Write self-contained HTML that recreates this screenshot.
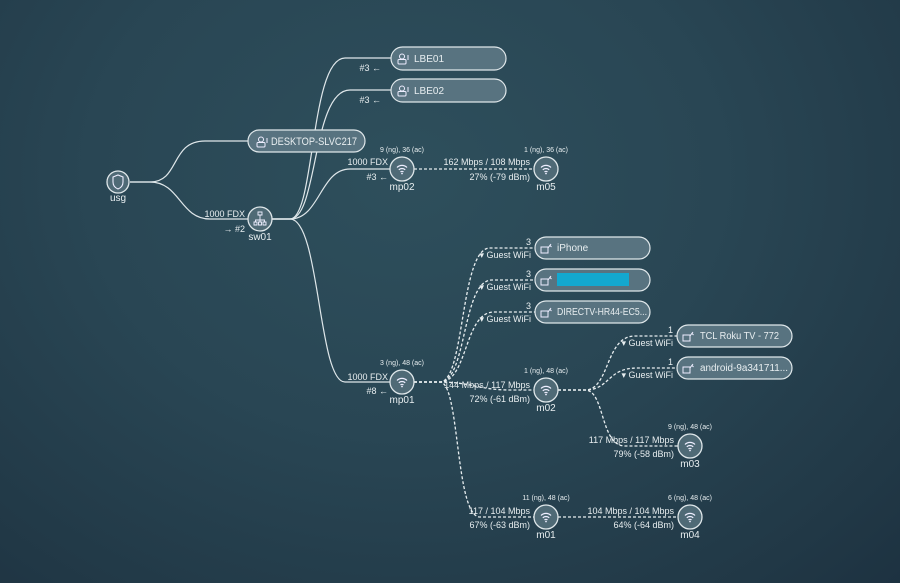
<!DOCTYPE html>
<html><head><meta charset="utf-8"><style>
html,body{margin:0;padding:0;width:900px;height:583px;overflow:hidden}
body{background:radial-gradient(ellipse at 45% 30%,#2e4f5c 0%,#294654 45%,#213846 85%,#1d3241 100%)}
svg{position:absolute;left:0;top:0}
text{font-family:"Liberation Sans",sans-serif;fill:#e8eef0}
.s{font-size:9px}.xs{font-size:7px}.m{font-size:10px}.l{font-size:11px}
.ln{fill:none;stroke:#dfe7ea;stroke-width:1.2}
.dl{fill:none;stroke:#e8eef0;stroke-width:1.3;stroke-dasharray:3 2}
.nd{fill:#4f6a76;stroke:#dfe7ea;stroke-width:1.3}
.pl{fill:#587380;stroke:#dfe7ea;stroke-width:1.2}
</style></head><body>
<svg width="900" height="583" viewBox="0 0 900 583">
<defs>
<g id="wifi"><path d="M-5,-1.5 A7,7 0 0 1 5,-1.5 M-3.2,0.8 A4.5,4.5 0 0 1 3.2,0.8 M-1.5,3 A2,2 0 0 1 1.5,3" fill="none" stroke="#eef" stroke-width="1.2"/><circle cx="0" cy="4.5" r="0.9" fill="#eef"/></g>
<g id="usr"><circle cx="-1" cy="-2.5" r="2.5" fill="none" stroke="#eef" stroke-width="1"/><rect x="-5" y="0.5" width="8" height="4.5" rx="1" fill="none" stroke="#eef" stroke-width="1"/><line x1="5" y1="-4" x2="5" y2="1" stroke="#eef" stroke-width="1"/></g>
<g id="dev"><rect x="-5" y="-2" width="7" height="6" fill="none" stroke="#eef" stroke-width="1"/><path d="M2,-1 L5,-5 M3.5,-4 L5.5,-2" stroke="#eef" stroke-width="1" fill="none"/></g>
</defs>
<path class="ln" d="M130,182 L150,182 C180,182 170,141 205,141 L248,141"/>
<path class="ln" d="M130,182 L150,182 C180,182 180,219 210,219 L248,219"/>
<path class="ln" d="M272,219 L290,219 C315,219 310,58 345,58 L391,58"/>
<path class="ln" d="M272,219 L290,219 C318,219 312,90 350,90 L391,90"/>
<path class="ln" d="M272,219 L290,219 C320,219 320,169 350,169 L390,169"/>
<path class="ln" d="M272,219 L290,219 C320,219 318,382 345,382 L390,382"/>
<path class="dl" d="M414,169 L534,169"/>
<path class="dl" d="M414,382 L440,382 C465,382 460,248 490,248 L535,248"/>
<path class="dl" d="M414,382 L440,382 C467,382 462,280 492,280 L535,280"/>
<path class="dl" d="M414,382 L440,382 C468,382 464,312 494,312 L535,312"/>
<path class="dl" d="M414,382 L440,382 C470,382 480,390 510,390 L534,390"/>
<path class="dl" d="M414,382 L440,382 C460,382 455,517 480,517 L534,517"/>
<path class="dl" d="M558,390 L585,390 C610,390 605,336 635,336 L677,336"/>
<path class="dl" d="M558,390 L585,390 C610,390 607,368 637,368 L677,368"/>
<path class="dl" d="M558,390 L585,390 C605,390 600,446 625,446 L678,446"/>
<path class="dl" d="M558,517 L678,517"/>
<rect class="pl" x="248" y="130" width="117" height="22" rx="11"/>
<use href="#usr" x="262" y="142"/><text class="l" x="271" y="145" textLength="86" lengthAdjust="spacingAndGlyphs">DESKTOP-SLVC217</text>
<rect class="pl" x="391" y="47" width="115" height="23" rx="11.5"/>
<use href="#usr" x="403" y="59"/><text class="m" x="414" y="62">LBE01</text>
<rect class="pl" x="391" y="79" width="115" height="23" rx="11.5"/>
<use href="#usr" x="403" y="91"/><text class="m" x="414" y="94">LBE02</text>
<rect class="pl" x="535" y="237" width="115" height="22" rx="11"/>
<use href="#dev" x="546" y="249"/><text class="m" x="557" y="251">iPhone</text>
<rect class="pl" x="535" y="269" width="115" height="22" rx="11"/>
<use href="#dev" x="546" y="281"/><rect x="557" y="273" width="72" height="13" fill="#13a8cf"/>
<rect class="pl" x="535" y="301" width="115" height="22" rx="11"/>
<use href="#dev" x="546" y="313"/><text class="m" x="557" y="315" textLength="90" lengthAdjust="spacingAndGlyphs">DIRECTV-HR44-EC5...</text>
<rect class="pl" x="677" y="325" width="115" height="22" rx="11"/>
<use href="#dev" x="688" y="337"/><text class="m" x="700" y="339" textLength="79" lengthAdjust="spacingAndGlyphs">TCL Roku TV - 772</text>
<rect class="pl" x="677" y="357" width="115" height="22" rx="11"/>
<use href="#dev" x="688" y="369"/><text class="m" x="700" y="371" textLength="88" lengthAdjust="spacingAndGlyphs">android-9a341711...</text>
<circle class="nd" cx="118" cy="182" r="11"/><path d="M113,177 L118,175 L123,177 L123,182 Q123,187 118,189 Q113,187 113,182Z" fill="none" stroke="#eef" stroke-width="1.1"/>
<text class="m" x="118" y="201" text-anchor="middle">usg</text>
<circle class="nd" cx="260" cy="219" r="12"/><path d="M258,212h4v3h-4z M254,222h3v3h-3z M258.5,222h3v3h-3z M263,222h3v3h-3z M260,215v4 M255.5,222v-2h9v2 M260,219v3" fill="none" stroke="#eef" stroke-width="0.9"/>
<text class="m" x="260" y="240" text-anchor="middle">sw01</text>
<g>
<circle class="nd" cx="402" cy="169" r="12"/><use href="#wifi" x="402" y="169"/><text class="m" x="402" y="190" text-anchor="middle">mp02</text>
<circle class="nd" cx="546" cy="169" r="12"/><use href="#wifi" x="546" y="169"/><text class="m" x="546" y="190" text-anchor="middle">m05</text>
<circle class="nd" cx="402" cy="382" r="12"/><use href="#wifi" x="402" y="382"/><text class="m" x="402" y="403" text-anchor="middle">mp01</text>
<circle class="nd" cx="546" cy="390" r="12"/><use href="#wifi" x="546" y="390"/><text class="m" x="546" y="411" text-anchor="middle">m02</text>
<circle class="nd" cx="690" cy="446" r="12"/><use href="#wifi" x="690" y="446"/><text class="m" x="690" y="467" text-anchor="middle">m03</text>
<circle class="nd" cx="546" cy="517" r="12"/><use href="#wifi" x="546" y="517"/><text class="m" x="546" y="538" text-anchor="middle">m01</text>
<circle class="nd" cx="690" cy="517" r="12"/><use href="#wifi" x="690" y="517"/><text class="m" x="690" y="538" text-anchor="middle">m04</text>
</g>
<g class="s">
<text x="381" y="71" text-anchor="end">#3 ←</text>
<text x="381" y="103" text-anchor="end">#3 ←</text>
<text x="245" y="217" text-anchor="end">1000 FDX</text>
<text x="245" y="232" text-anchor="end">→ #2</text>
<text x="388" y="165" text-anchor="end">1000 FDX</text>
<text x="388" y="180" text-anchor="end">#3 ←</text>
<text x="530" y="165" text-anchor="end">162 Mbps / 108 Mbps</text>
<text x="530" y="180" text-anchor="end">27% (-79 dBm)</text>
<text x="388" y="380" text-anchor="end">1000 FDX</text>
<text x="388" y="394" text-anchor="end">#8 ←</text>
<text x="530" y="388" text-anchor="end">144 Mbps / 117 Mbps</text>
<text x="530" y="402" text-anchor="end">72% (-61 dBm)</text>
<text x="674" y="443" text-anchor="end">117 Mbps / 117 Mbps</text>
<text x="674" y="457" text-anchor="end">79% (-58 dBm)</text>
<text x="530" y="514" text-anchor="end">117 / 104 Mbps</text>
<text x="530" y="528" text-anchor="end">67% (-63 dBm)</text>
<text x="674" y="514" text-anchor="end">104 Mbps / 104 Mbps</text>
<text x="674" y="528" text-anchor="end">64% (-64 dBm)</text>
<text x="531" y="245" text-anchor="end">3</text><text x="531" y="258" text-anchor="end">▾ Guest WiFi</text>
<text x="531" y="277" text-anchor="end">3</text><text x="531" y="290" text-anchor="end">▾ Guest WiFi</text>
<text x="531" y="309" text-anchor="end">3</text><text x="531" y="322" text-anchor="end">▾ Guest WiFi</text>
<text x="673" y="333" text-anchor="end">1</text><text x="673" y="346" text-anchor="end">▾ Guest WiFi</text>
<text x="673" y="365" text-anchor="end">1</text><text x="673" y="378" text-anchor="end">▾ Guest WiFi</text>
</g>
<g class="xs" text-anchor="middle">
<text x="402" y="152">9 (ng), 36 (ac)</text>
<text x="546" y="152">1 (ng), 36 (ac)</text>
<text x="402" y="365">3 (ng), 48 (ac)</text>
<text x="546" y="373">1 (ng), 48 (ac)</text>
<text x="690" y="429">9 (ng), 48 (ac)</text>
<text x="546" y="500">11 (ng), 48 (ac)</text>
<text x="690" y="500">6 (ng), 48 (ac)</text>
</g>
</svg>
</body></html>
